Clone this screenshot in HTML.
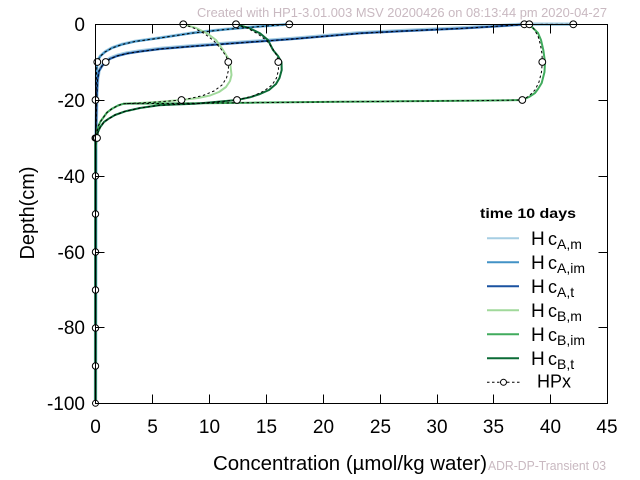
<!DOCTYPE html>
<html><head><meta charset="utf-8"><style>
html,body{margin:0;padding:0;background:#fff;}
svg{display:block;font-family:"Liberation Sans","DejaVu Sans",sans-serif;}
</style></head><body>
<svg width="640" height="480" viewBox="0 0 640 480" xmlns="http://www.w3.org/2000/svg">
<rect width="640" height="480" fill="#fff"/>
<text x="197" y="17" font-size="13" fill="#c9b9c1" textLength="410" lengthAdjust="spacingAndGlyphs">Created with HP1-3.01.003 MSV 20200426 on 08:13:44 pm 2020-04-27</text>

<!-- series -->
<g fill="none" stroke-linejoin="round" stroke-linecap="round">
<path stroke="#a6cee3" stroke-width="3.5" d="M573,24.3 L524,24.2 L490,26.2 L460,28 L400,30.7 L360,32.8 L293,38.5 L227,43.3 L190,46 L160,48.5 L140,51 L127,53 L117,55.5 L110,58.3 L106,61.5 L102,65.5 L99,70.5 L97.5,80 L96.8,95 L96.3,120 L96,138 L95.5,403"/>
<path stroke="#a6cee3" stroke-width="3" d="M289,24.3 L260,26.2 L225,29.2 L193,32.7 L160,37.7 L135,41.2 L122,44.2 L112,47.7 L105,51.7 L100.5,55.7 L98,59.7 L97,64 L96.5,72 L96.3,85"/>
<path stroke="#4292c6" stroke-width="2" d="M289,24.3 L260,26.5 L225,29.5 L193,33 L160,38 L135,41.5 L122,44.5 L112,48 L105,52 L100.5,56 L98,60 L97,64 L96.5,72 L96.3,85 L96,110 L95.8,138 L95.5,403"/>
<path stroke="#1a52a0" stroke-width="2" d="M524,24.5 L490,26.7 L460,28.5 L400,31.2 L360,33.3 L293,39 L227,43.8 L190,46.5 L160,49 L140,51.5 L127,53.5 L117,56 L110,58.8 L106,62 L102,66 L99,71 L97.5,80 L96.8,95 L96.3,120 L96,138 L95.5,403"/>
<path stroke="#a1d99b" stroke-width="2" d="M183.3,24.3 L196,28 L207,33.3 L216,40 L223,50 L228,58 L230.5,66 L231.5,75 L230,81 L226,87 L219,92 L210,95.5 L198,98 L181.5,100 L160,101.8 L140,103 L123.7,103.7 L118,105.5 L112,108.7 L107,112.5 L103.7,117 L100.5,121.5 L98.7,125.3 L97.5,130 L96.8,135 L96.3,140 L95.5,150"/>
<path stroke="#41ab5d" stroke-width="2" d="M529.3,24.3 L533,28 L538,33 L541,40 L543.3,50 L545,62 L544.5,72 L541.7,83 L538,89 L535,93 L529,97 L522.3,100 L480,100.6 L400,101.3 L340,101.8 L252,102.7 L200,103.2 L160,103.5 L123.7,103.7 L118,105.5 L112,108.7 L107,112.5 L103.7,117 L100.5,121.5 L98.7,125.3 L97.5,130 L96.8,135 L96.3,140 L95.5,150"/>
<path stroke="#0b6b36" stroke-width="2" d="M236,24.3 L249,28 L260,33.3 L268,40 L273,50 L278,56 L281.5,62 L281.7,70 L279.5,78 L276,84 L269,90 L260,94 L250,97.3 L237,100 L215,102 L195,103.8 L175,104.5 L159,105.3 L140,108 L125.3,111.3 L115,115 L108.7,118.7 L104,122 L100.3,127 L98,132 L97,138 L95.5,146"/>
<path stroke="#0b6b36" stroke-width="2.5" d="M95.5,140 L95.5,403"/>
</g>

<!-- HPx dashed -->
<g fill="none" stroke="#000" stroke-width="1" stroke-dasharray="2.5,2.5">
<path d="M289,24.3 L260,26.5 L225,29.5 L193,33 L160,38 L135,41.5 L122,44.5 L112,48 L105,52 L100.5,56 L98,60 L97,64 L96.5,72 L96.3,85 L96,110 L95.8,138"/>
<path d="M573,24.3 L524,24.5 L490,26.7 L460,28.5 L400,31.2 L360,33.3 L293,39 L227,43.8 L190,46.5 L160,49 L140,51.5 L127,53.5 L117,56 L110,58.8 L106,62 L102,66 L99,71 L97.5,80 L96.8,95 L96.3,120 L96,138"/>
<path d="M183.3,24.3 L195,28.5 L205,34 L214,41 L221,49 L226,56 L228.3,62 L228.5,70 L226.5,78 L222,85 L214,91 L203,95.5 L192,98 L181.5,100 L160,101.8 L140,103 L123.7,103.7 L118,105.5 L112,108.7 L107,112.5 L103.7,117 L100.5,121.5 L98.7,125.3 L97.5,130 L96.8,135 L96.3,140"/>
<path d="M236,24.3 L248,28.5 L258,34 L267,41 L273,49 L277,56 L278.3,62 L278.5,70 L276.5,78 L272,85 L264,91 L253,96 L237,100 L215,102 L195,103.8 L175,104.5 L159,105.3 L140,108 L125.3,111.3 L115,115 L108.7,118.7 L104,122 L100.3,127 L98,132 L97,138"/>
<path d="M529.3,24.3 L534,29 L538,36 L540.5,45 L542,54 L542.3,62 L541.5,72 L539,82 L535,90 L529,96 L522.3,100 L480,100.6 L400,101.3 L340,101.8 L252,102.7 L200,103.2 L160,103.5 L123.7,103.7"/>
</g>

<!-- markers -->
<g fill="#fff" stroke="#000" stroke-width="1">
<circle cx="183.3" cy="24.3" r="3.4"/><circle cx="236" cy="24.3" r="3.4"/><circle cx="289.3" cy="24.3" r="3.4"/>
<circle cx="524.3" cy="24.3" r="3.4"/><circle cx="529.3" cy="24.3" r="3.4"/><circle cx="573.3" cy="24.3" r="3.4"/>
<circle cx="97.3" cy="62" r="3.4"/><circle cx="105.7" cy="62" r="3.4"/><circle cx="228.3" cy="62" r="3.4"/>
<circle cx="278.3" cy="62" r="3.4"/><circle cx="542.3" cy="62" r="3.4"/>
<circle cx="95.5" cy="100" r="3.4"/><circle cx="181.5" cy="100" r="3.4"/><circle cx="237" cy="100" r="3.4"/><circle cx="522.3" cy="100" r="3.4"/>
<circle cx="95" cy="138" r="3" fill="#333"/><circle cx="97" cy="138" r="3.4"/>
<circle cx="95.5" cy="176" r="3.2"/><circle cx="95.5" cy="214" r="3.2"/><circle cx="95.5" cy="252" r="3.2"/>
<circle cx="95.5" cy="290" r="3.2"/><circle cx="95.5" cy="328" r="3.2"/><circle cx="95.5" cy="366" r="3.2"/>
<circle cx="95.5" cy="403.3" r="3"/>
</g>

<!-- axes -->
<g stroke="#000" stroke-width="1" fill="none">
<rect x="95.5" y="24.5" width="512" height="379"/>
<path d="M152.5,403.5v-9M209.5,403.5v-9M266.5,403.5v-9M323.5,403.5v-9M380.5,403.5v-9M437.5,403.5v-9M493.5,403.5v-9M550.5,403.5v-9
M152.5,24.5v9M209.5,24.5v9M266.5,24.5v9M323.5,24.5v9M380.5,24.5v9M437.5,24.5v9M493.5,24.5v9M550.5,24.5v9
M95.5,100.5h9M95.5,176.5h9M95.5,252.5h9M95.5,327.5h9
M607.5,100.5h-9M607.5,176.5h-9M607.5,252.5h-9M607.5,327.5h-9"/>
</g>

<!-- tick labels -->
<g font-size="19" fill="#000" text-anchor="end">
<text x="85" y="31">0</text>
<text x="85" y="107">-20</text>
<text x="85" y="183">-40</text>
<text x="85" y="259">-60</text>
<text x="85" y="334">-80</text>
<text x="85" y="410">-100</text>
</g>
<g font-size="19" fill="#000" text-anchor="middle">
<text x="95.5" y="433">0</text>
<text x="152.5" y="433">5</text>
<text x="209.5" y="433">10</text>
<text x="266.5" y="433">15</text>
<text x="323.5" y="433">20</text>
<text x="380.5" y="433">25</text>
<text x="437" y="433">30</text>
<text x="493.5" y="433">35</text>
<text x="550.5" y="433">40</text>
<text x="607" y="433">45</text>
</g>

<text x="213" y="470" font-size="20" fill="#000" textLength="274" lengthAdjust="spacingAndGlyphs">Concentration (µmol/kg water)</text>
<text x="488" y="470" font-size="13" fill="#c9b9c1" textLength="118" lengthAdjust="spacingAndGlyphs">ADR-DP-Transient 03</text>
<text transform="translate(34,213) rotate(-90)" text-anchor="middle" font-size="20" fill="#000" textLength="93" lengthAdjust="spacingAndGlyphs">Depth(cm)</text>

<!-- legend -->
<text x="480" y="218" font-size="14" font-weight="bold" fill="#000" textLength="96" lengthAdjust="spacingAndGlyphs">time 10 days</text>
<g stroke-width="2">
<line x1="487" y1="238.3" x2="519" y2="238.3" stroke="#a6cee3"/>
<line x1="487" y1="262.3" x2="519" y2="262.3" stroke="#4292c6"/>
<line x1="487" y1="286.3" x2="519" y2="286.3" stroke="#1a52a0"/>
<line x1="487" y1="310.3" x2="519" y2="310.3" stroke="#a1d99b"/>
<line x1="487" y1="334.3" x2="519" y2="334.3" stroke="#41ab5d"/>
<line x1="487" y1="358.3" x2="519" y2="358.3" stroke="#0b6b36"/>
</g>
<line x1="487" y1="382.3" x2="520" y2="382.3" stroke="#000" stroke-width="1" stroke-dasharray="2.5,2.5"/>
<circle cx="503.5" cy="382.3" r="3" fill="#fff" stroke="#000" stroke-width="1"/>
<g fill="#000">
<text x="531" y="245" font-size="19">H<tspan x="548" font-size="18">c</tspan><tspan font-size="14" dy="4">A,m</tspan></text>
<text x="531" y="269" font-size="19">H<tspan x="548" font-size="18">c</tspan><tspan font-size="14" dy="4">A,im</tspan></text>
<text x="531" y="293" font-size="19">H<tspan x="548" font-size="18">c</tspan><tspan font-size="14" dy="4">A,t</tspan></text>
<text x="531" y="317" font-size="19">H<tspan x="548" font-size="18">c</tspan><tspan font-size="14" dy="4">B,m</tspan></text>
<text x="531" y="341" font-size="19">H<tspan x="548" font-size="18">c</tspan><tspan font-size="14" dy="4">B,im</tspan></text>
<text x="531" y="365" font-size="19">H<tspan x="548" font-size="18">c</tspan><tspan font-size="14" dy="4">B,t</tspan></text>
<text x="537" y="387.5" font-size="18">HPx</text>
</g>
</svg>
</body></html>
